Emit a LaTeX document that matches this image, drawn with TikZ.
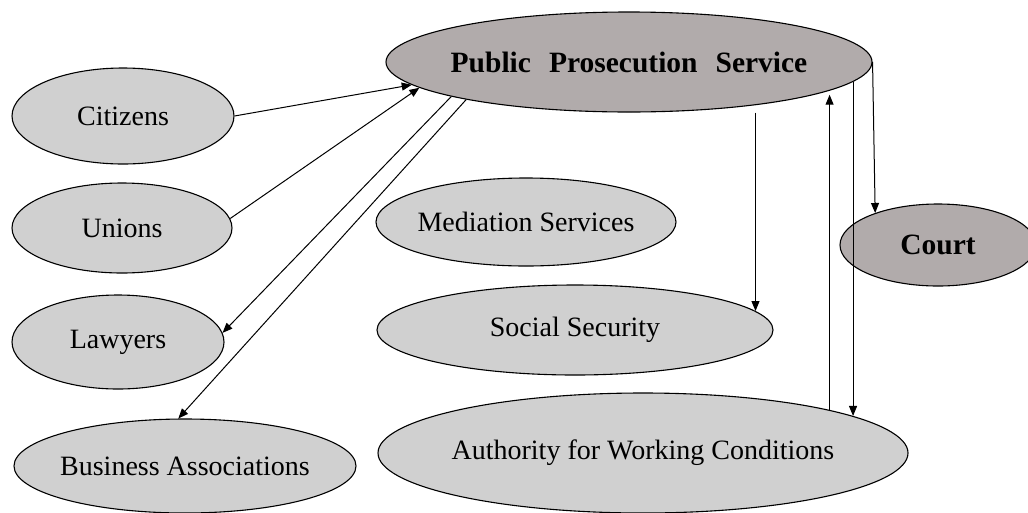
\documentclass[tikz,border=0pt]{standalone}
\usepackage{fontspec}
\setmainfont{Liberation Serif}
\usetikzlibrary{shapes.geometric,arrows.meta,calc}
\definecolor{darkfill}{RGB}{177,171,171}
\definecolor{lightfill}{RGB}{208,208,208}
\begin{document}
\begin{tikzpicture}[x=1pt,y=-1pt,
  ell/.style={ellipse,draw=black,line width=1.1pt,inner xsep=-12pt,inner ysep=0pt,font=\fontsize{28}{32}\selectfont},
  lite/.style={ell,fill=lightfill},
  dark/.style={ell,fill=darkfill,font=\fontsize{29.5}{33}\selectfont\bfseries},
  conn/.style={line width=1pt,-{Triangle[length=10pt,width=8pt]}}]
\useasboundingbox (0,0) rectangle (1028,512);
\node[dark,minimum width=486pt,minimum height=100pt] (pps) at (629,62) {Public\hspace{18pt}Prosecution\hspace{18pt}Service};
\node[lite,minimum width=222pt,minimum height=96pt] (cit) at (123,116) {Citizens};
\node[lite,minimum width=220pt,minimum height=90pt] (uni) at (122,228) {Unions};
\node[lite,minimum width=212pt,minimum height=94pt] (law) at (118,342) {Lawyers};
\node[lite,minimum width=342pt,minimum height=94pt] (bus) at (185,466) {Business Associations};
\node[lite,minimum width=300pt,minimum height=88pt] (med) at (526,222) {Mediation Services};
\node[lite,minimum width=396pt,minimum height=90pt] (ss) at (575,330) {Social Security};
\node[lite,minimum width=530pt,minimum height=120pt] (auth) at (643,453) {Authority for Working Conditions};
\node[dark,minimum width=196pt,minimum height=82pt] (court) at (938,245) {Court};

\draw[conn] (cit.east) -- (pps.186);
\draw[conn] (uni.5) -- (pps.187.5);
\draw[conn] (pps.191) -- (law.5);
\draw[conn] (pps.193.5) -- (bus.98);
\draw[conn] (ss.6.5 |- pps.south) -- (ss.6.5);
\draw[conn] (auth.13) -- (auth.13 |- pps.-10);
\draw[conn] (auth.10 |- pps.-5.6) -- (auth.10);
\draw[conn] (pps.east) -- (court.153.4);
\end{tikzpicture}
\end{document}
